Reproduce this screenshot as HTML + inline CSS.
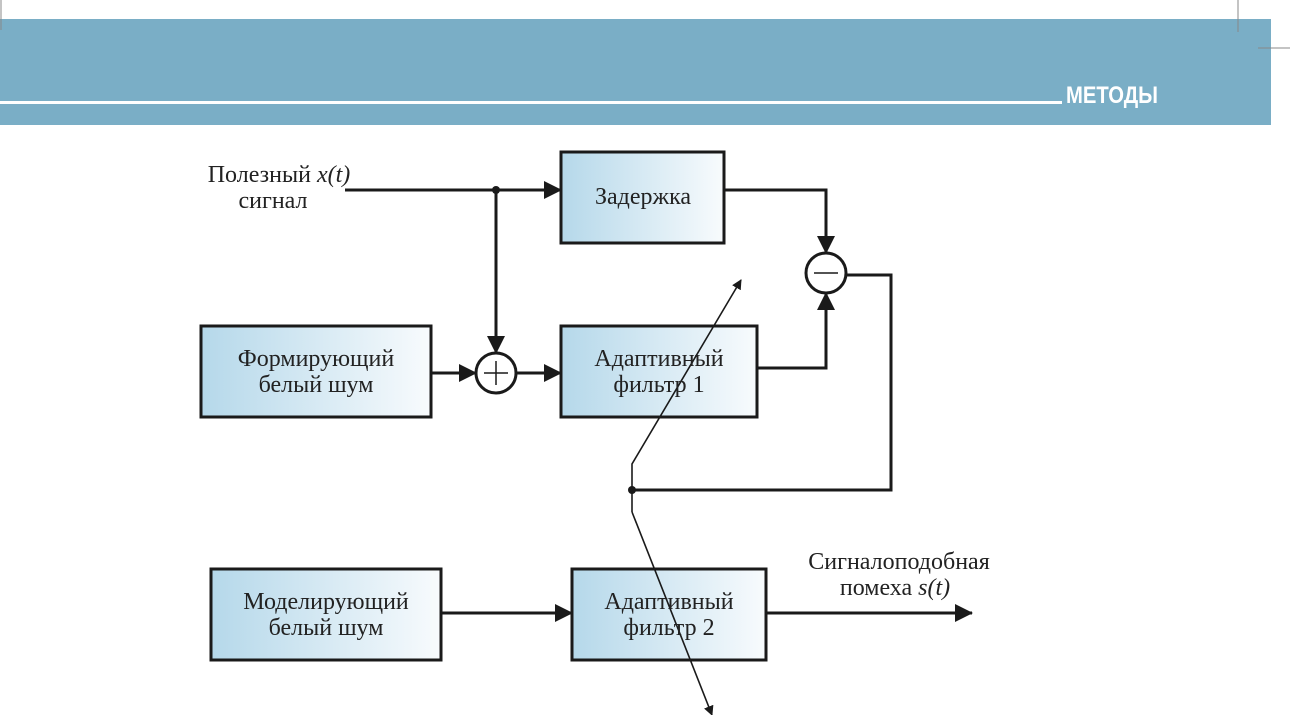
<!DOCTYPE html>
<html><head><meta charset="utf-8"><style>
body{margin:0;width:1290px;height:715px;background:#fff;overflow:hidden;position:relative;font-family:"Liberation Serif",serif}
</style></head><body>
<svg width="1290" height="715" style="position:absolute;left:0;top:0">
<defs>
<linearGradient id="g" x1="0" x2="1" y1="0" y2="0"><stop offset="0" stop-color="#b5d8ea"/><stop offset="1" stop-color="#f8fbfd"/></linearGradient>
<marker id="a" markerWidth="10" markerHeight="10" refX="9" refY="5" orient="auto" markerUnits="userSpaceOnUse"><path d="M0,0 L10,5 L0,10z" fill="#1a1a1a"/></marker>
<marker id="b" markerWidth="18" markerHeight="18" refX="17" refY="9" orient="auto" markerUnits="userSpaceOnUse"><path d="M0,0 L18,9 L0,18z" fill="#1a1a1a"/></marker>
</defs>
<rect x="0" y="19" width="1271" height="106" fill="#7aaec6"/>
<rect x="0" y="101" width="1062" height="3" fill="#fff"/>
<line x1="1" y1="0" x2="1" y2="30" stroke="#888"/>
<line x1="1238" y1="0" x2="1238" y2="32" stroke="#888"/>
<line x1="1258" y1="48" x2="1290" y2="48" stroke="#888"/>
<text x="1066" y="103" fill="#fff" font-family="Liberation Sans Narrow,Liberation Sans,sans-serif" font-weight="bold" font-size="24" textLength="92" lengthAdjust="spacingAndGlyphs">МЕТОДЫ</text>
<g stroke="#1a1a1a" stroke-width="3" fill="url(#g)">
<rect x="561" y="152" width="163" height="91"/>
<rect x="561" y="326" width="196" height="91"/>
<rect x="201" y="326" width="230" height="91"/>
<rect x="211" y="569" width="230" height="91"/>
<rect x="572" y="569" width="194" height="91"/>
</g>
<g stroke="#1a1a1a" stroke-width="3" fill="none">
<line x1="345" y1="190" x2="561" y2="190" marker-end="url(#b)"/>
<line x1="496" y1="190" x2="496" y2="353" marker-end="url(#b)"/>
<line x1="431" y1="373" x2="476" y2="373" marker-end="url(#b)"/>
<line x1="516" y1="373" x2="561" y2="373" marker-end="url(#b)"/>
<circle cx="496" cy="373" r="20" fill="#fff"/>
<line x1="484" y1="373" x2="508" y2="373" stroke-width="1.5"/>
<line x1="496" y1="361" x2="496" y2="385" stroke-width="1.5"/>
<polyline points="724,190 826,190 826,253" marker-end="url(#b)"/>
<polyline points="757,368 826,368 826,293" marker-end="url(#b)"/>
<circle cx="826" cy="273" r="20" fill="#fff"/>
<line x1="814" y1="273" x2="838" y2="273" stroke-width="1.5"/>
<polyline points="846,275 891,275 891,490 632,490"/>
<line x1="441" y1="613" x2="572" y2="613" marker-end="url(#b)"/>
<line x1="766" y1="613" x2="972" y2="613" marker-end="url(#b)"/>
</g>
<g stroke="#1a1a1a" stroke-width="1.6" fill="none">
<polyline points="632,512 632,464 741,280" marker-end="url(#a)"/>
<line x1="632" y1="512" x2="712" y2="715" marker-end="url(#a)"/>
</g>
<circle cx="496" cy="190" r="4" fill="#1a1a1a"/>
<circle cx="632" cy="490" r="4" fill="#1a1a1a"/>
<g font-size="24" fill="#222" text-anchor="middle">
<text x="279" y="182">Полезный <tspan font-style="italic">x(t)</tspan></text>
<text x="273" y="208">сигнал</text>
<text x="643" y="204">Задержка</text>
<text x="659" y="366">Адаптивный</text>
<text x="659" y="392">фильтр 1</text>
<text x="316" y="366">Формирующий</text>
<text x="316" y="392">белый шум</text>
<text x="326" y="609">Моделирующий</text>
<text x="326" y="635">белый шум</text>
<text x="669" y="609">Адаптивный</text>
<text x="669" y="635">фильтр 2</text>
<text x="899" y="569">Сигналоподобная</text>
<text x="895" y="595">помеха <tspan font-style="italic">s(t)</tspan></text>
</g>
</svg>
</body></html>
